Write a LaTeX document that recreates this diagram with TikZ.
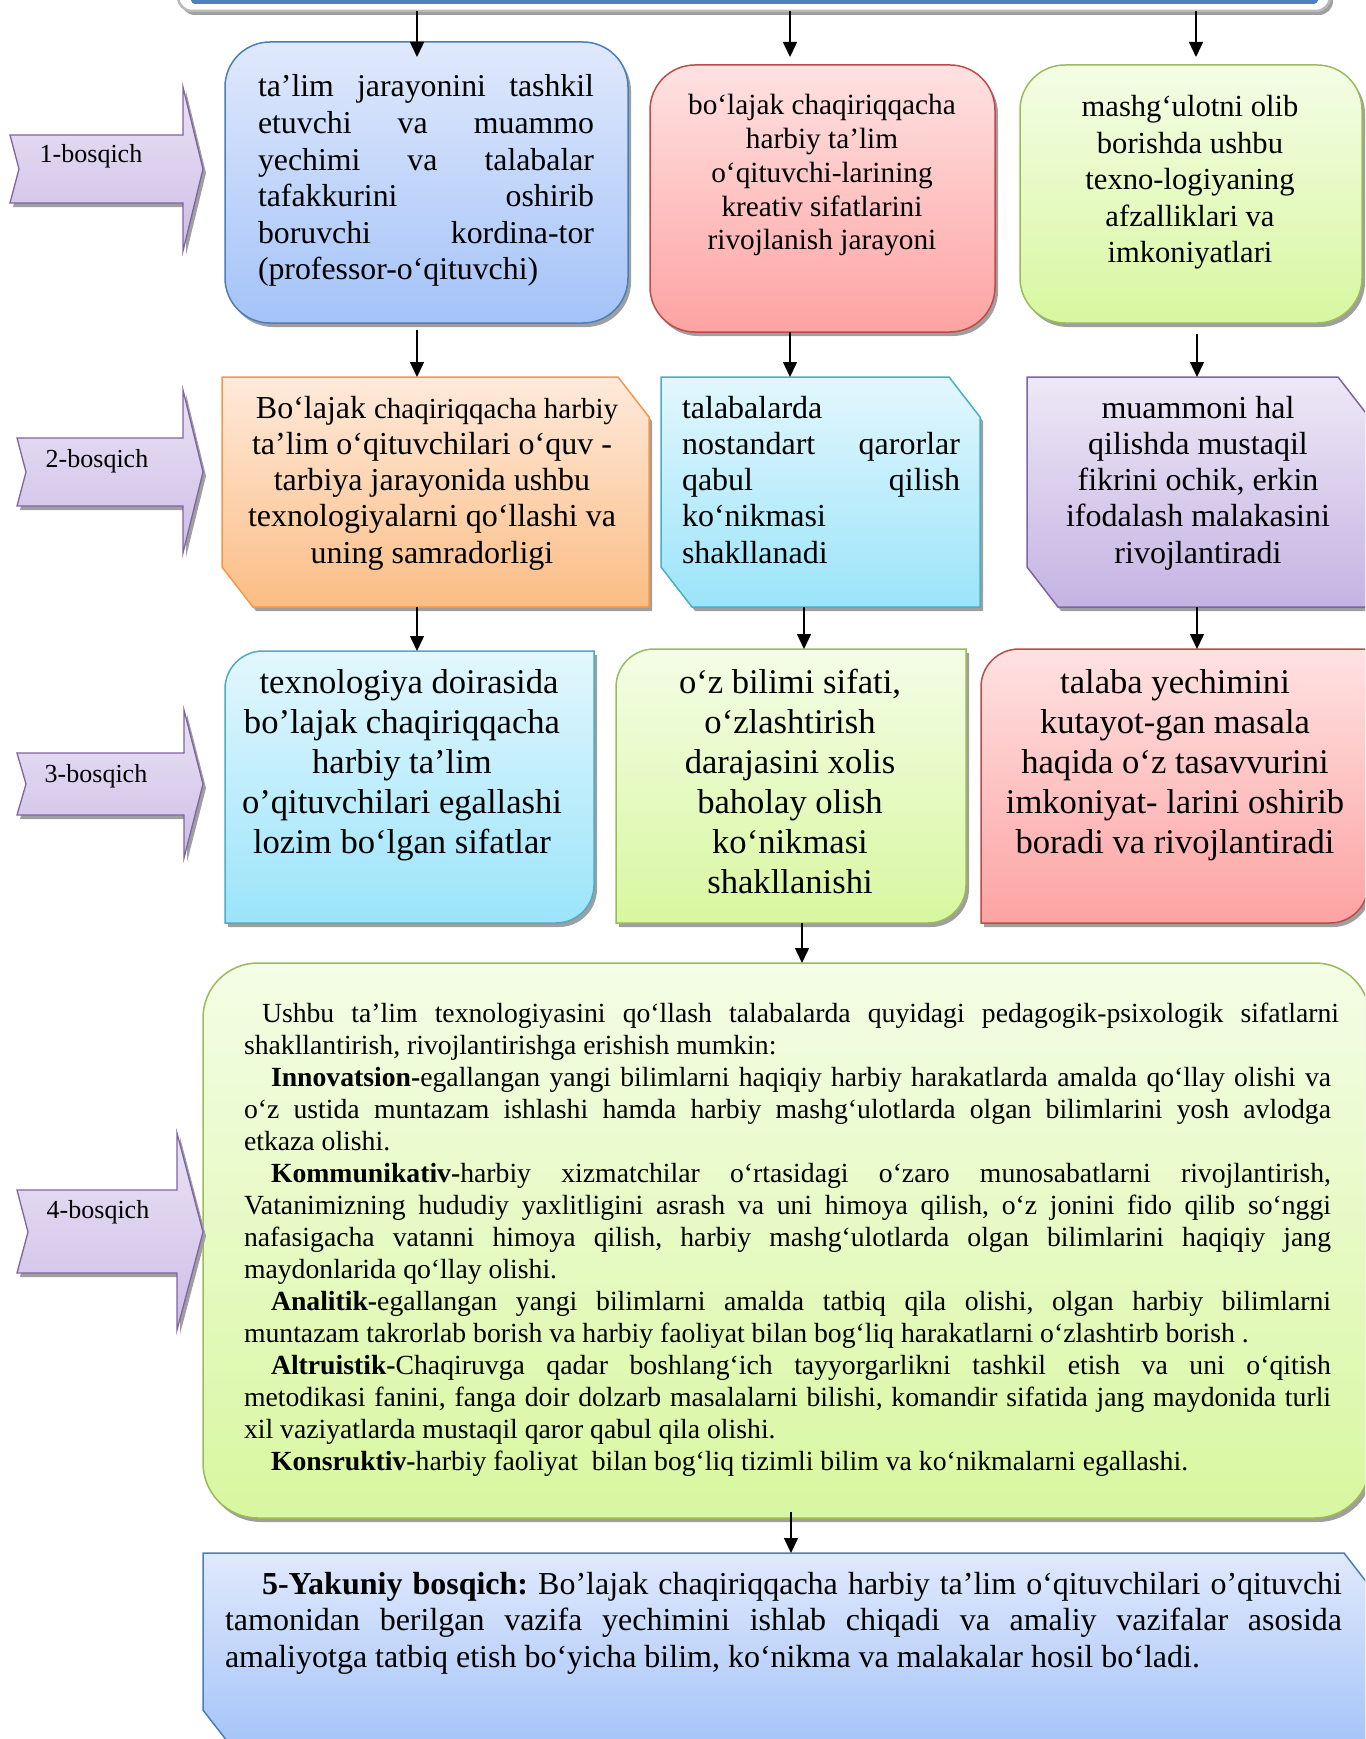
\documentclass[tikz,border=0pt]{standalone}
\usepackage{fontspec}
\setmainfont{Liberation Serif}
\usetikzlibrary{arrows.meta,shadows,calc}
\definecolor{blueT}{HTML}{E0E9FC}\definecolor{blueB}{HTML}{A4C3F8}\definecolor{blueD}{HTML}{4A7EBB}
\definecolor{redT}{HTML}{FFE2E2}\definecolor{redB}{HTML}{FDA3A3}\definecolor{redD}{HTML}{BE4B48}
\definecolor{greenT}{HTML}{F4FDE6}\definecolor{greenB}{HTML}{D8F7A0}\definecolor{greenD}{HTML}{9BBB59}
\definecolor{orT}{HTML}{FEEADB}\definecolor{orB}{HTML}{FBBD85}\definecolor{orD}{HTML}{F79646}
\definecolor{cyT}{HTML}{E3F7FD}\definecolor{cyB}{HTML}{9BE4FA}\definecolor{cyD}{HTML}{4BACC6}
\definecolor{puT}{HTML}{EEE8F6}\definecolor{puB}{HTML}{C5B3E3}\definecolor{puD}{HTML}{8064A2}
\definecolor{labT}{HTML}{EAE3F5}\definecolor{labB}{HTML}{CDBDE6}
\definecolor{barblue}{HTML}{4F81BD}
\newcommand\fsz[2]{\fontsize{#1pt}{#2pt}\selectfont}
\newcommand\natsp{\frenchspacing\spaceskip=0pt\xspaceskip=0pt\relax}
\newcommand\ctr{\natsp\centering}
\newcommand\lft{\natsp\raggedright}
\newcommand\jl[2]{\makebox[#1][s]{\natsp #2}}
\newcommand\snipbox[2]{\path[#2] (#1.north west) -- ([xshift=-31pt]#1.north east) -- ([yshift=-40pt]#1.north east) -- (#1.south east) -- ([xshift=31pt]#1.south west) -- ([yshift=40pt]#1.south west) -- cycle;}
\newcommand\diagbox[2]{\path[#2] ([yshift=-38pt]#1.north west) arc[start angle=180,end angle=90,radius=38pt] -- (#1.north east) -- ([yshift=38pt]#1.south east) arc[start angle=0,end angle=-90,radius=38pt] -- (#1.south west) -- cycle;}
\tikzset{
  shad/.style={drop shadow={shadow xshift=3pt, shadow yshift=-4pt, fill=gray!75, opacity=1}},
  geo/.style={inner sep=0pt, outer sep=0pt, anchor=north west},
  boxline/.style={line width=1.5pt},
  txt/.style={inner sep=0pt, outer sep=0pt, anchor=base},
  arr/.style={-{Triangle[width=14pt,length=15pt]}, line width=1.5pt, black},
  labarrow/.style={shad, draw=puD, line width=1.3pt, top color=labT, bottom color=labB},
  labtext/.style={txt, font=\fsz{26}{30}},
}
\begin{document}
\begin{tikzpicture}[x=1pt,y=-1pt]
\useasboundingbox (0,0) rectangle (1365,1739);
\clip (0,0) rectangle (1365,1739);
% top box (cut off)
\node[geo, anchor=south west, minimum width=1152pt, minimum height=91pt, draw=gray!55, line width=2.5pt, fill=white, rounded corners=14pt, shad] (top) at (178,11) {};
\node[geo, anchor=south west, minimum width=1127pt, minimum height=60pt, fill=barblue, rounded corners=4pt] (topbar) at (191,4) {};
% row 1
\node[geo, boxline, minimum width=403pt, minimum height=281pt, draw=blueD, top color=blueT, bottom color=blueB, rounded corners=45pt, shad] (A) at (225,42) {};
\node[geo, boxline, minimum width=345pt, minimum height=267pt, draw=redD, top color=redT, bottom color=redB, rounded corners=45pt, shad] (B) at (650,65) {};
\node[geo, boxline, minimum width=342pt, minimum height=258pt, draw=greenD, top color=greenT, bottom color=greenB, rounded corners=45pt, shad] (C) at (1020,65) {};
% row 2
\node[geo, minimum width=427pt, minimum height=230pt] (D) at (222,377) {};
\node[geo, minimum width=319pt, minimum height=230pt] (E) at (661,377) {};
\node[geo, minimum width=342pt, minimum height=230pt] (F) at (1027,377) {};
\snipbox{D}{shad, boxline, draw=orD, top color=orT, bottom color=orB}
\snipbox{E}{shad, boxline, draw=cyD, top color=cyT, bottom color=cyB}
\snipbox{F}{shad, boxline, draw=puD, top color=puT, bottom color=puB}
% row 3
\node[geo, minimum width=369pt, minimum height=272pt] (G) at (225,651) {};
\node[geo, minimum width=350pt, minimum height=274pt] (H) at (616,649) {};
\node[geo, minimum width=387pt, minimum height=274pt] (I) at (981,649) {};
\diagbox{G}{shad, boxline, draw=cyD, top color=cyT, bottom color=cyB}
\diagbox{H}{shad, boxline, draw=greenD, top color=greenT, bottom color=greenB}
\diagbox{I}{shad, boxline, draw=redD, top color=redT, bottom color=redB}
% box 4
\node[geo, boxline, minimum width=1167pt, minimum height=555pt, draw=greenD, top color=greenT, bottom color=greenB, rounded corners=55pt, shad] (K) at (203,963) {};
% box 5
\node[geo, minimum width=1172pt, minimum height=197pt] (L) at (203,1553) {};
\snipbox{L}{shad, boxline, draw=blueD, top color=blueT, bottom color=blueB}
% stage arrows
\path[labarrow] (10,135) -- (183,135) -- (183,87) -- (203,169) -- (183,251) -- (183,203) -- (10,203) -- (19,169) -- cycle;
\path[labarrow] (17,438) -- (183,438) -- (183,390) -- (203,472) -- (183,553) -- (183,506) -- (17,506) -- (26,472) -- cycle;
\path[labarrow] (17,753) -- (184,753) -- (184,710) -- (203,784) -- (184,858) -- (184,815) -- (17,815) -- (26,784) -- cycle;
\path[labarrow] (17,1190) -- (177,1190) -- (177,1133) -- (203,1232) -- (177,1330) -- (177,1273) -- (17,1273) -- (28,1232) -- cycle;
\node[labtext] (l1) at (91,163) {1-bosqich};
\node[labtext] (l2) at (97,467) {2-bosqich};
\node[labtext] (l3) at (96,782) {3-bosqich};
\node[labtext] (l4) at (98,1218) {4-bosqich};
% texts row 1
\node[txt, anchor=base west, text width=336pt, font=\fsz{31.8}{36.6}] (At) at (258,97)
 {\lft ta’lim\hfill jarayonini\hfill tashkil\\ etuvchi\hfill va\hfill muammo\\ yechimi\hfill va\hfill talabalar\\ tafakkurini\hfill oshirib\\ boruvchi\hfill kordina-tor\\ (professor-o‘qituvchi)\par};
\node[txt, text width=330pt, font=\fsz{29.3}{33.75}] (Bt) at (822,115)
 {\ctr bo‘lajak chaqiriqqacha\\ harbiy ta’lim\\ o‘qituvchi-larining\\ kreativ sifatlarini\\ rivojlanish jarayoni\par};
\node[txt, text width=330pt, font=\fsz{30.6}{36.5}] (Ct) at (1190,117)
 {\ctr mashg‘ulotni olib\\ borishda ushbu\\ texno-logiyaning\\ afzalliklari va\\ imkoniyatlari\par};
% texts row 2
\node[txt, text width=420pt, font=\fsz{32}{36.3}] (Dt) at (432,418)
 {\ctr \hspace*{10pt}Bo‘lajak {\fsz{29}{36.3}chaqiriqqacha harbiy}\\ ta’lim o‘qituvchilari o‘quv -\\ tarbiya jarayonida ushbu\\ texnologiyalarni qo‘llashi va\\ uning samradorligi\par};
\node[txt, anchor=base west, text width=278pt, font=\fsz{32}{36.3}] (Et) at (682,418)
 {\lft talabalarda\\ nostandart\hfill qarorlar\\ qabul\hfill qilish\\ ko‘nikmasi\\ shakllanadi\par};
\node[txt, text width=330pt, font=\fsz{32}{36.3}] (Ft) at (1198,418)
 {\ctr muammoni hal\\ qilishda mustaqil\\ fikrini ochik, erkin\\ ifodalash malakasini\\ rivojlantiradi\par};
% texts row 3
\node[txt, text width=360pt, font=\fsz{34.6}{40}] (Gt) at (402,693)
 {\ctr \hspace*{14pt}texnologiya doirasida\\ bo’lajak chaqiriqqacha\\ harbiy ta’lim\\ o’qituvchilari egallashi\\ lozim bo‘lgan sifatlar\par};
\node[txt, text width=340pt, font=\fsz{34.6}{40}] (Ht) at (790,693)
 {\ctr o‘z bilimi sifati,\\ o‘zlashtirish\\ darajasini xolis\\ baholay olish\\ ko‘nikmasi\\ shakllanishi\par};
\node[txt, text width=380pt, font=\fsz{34.6}{40}] (It) at (1175,693)
 {\ctr talaba yechimini\\ kutayot-gan masala\\ haqida o‘z tasavvurini\\ imkoniyat- larini oshirib\\ boradi va rivojlantiradi\par};
% box 4 text
\node[txt, anchor=base west, text width=1095pt, font=\fsz{27.7}{32}] (Kt) at (244,1022)
 {\lft
 \hspace*{18pt}\jl{1077pt}{Ushbu ta’lim texnologiyasini qo‘llash talabalarda quyidagi pedagogik-psixologik sifatlarni}\\
 shakllantirish, rivojlantirishga erishish mumkin:\\
 \hspace*{27pt}\jl{1060pt}{\textbf{Innovatsion-}egallangan yangi bilimlarni haqiqiy harbiy harakatlarda amalda qo‘llay olishi va}\\
 \jl{1087pt}{o‘z ustida muntazam ishlashi hamda harbiy mashg‘ulotlarda olgan bilimlarini yosh avlodga}\\
 etkaza olishi.\\
 \hspace*{27pt}\jl{1060pt}{\textbf{Kommunikativ-}harbiy xizmatchilar o‘rtasidagi o‘zaro munosabatlarni rivojlantirish,}\\
 \jl{1087pt}{Vatanimizning hududiy yaxlitligini asrash va uni himoya qilish, o‘z jonini fido qilib so‘nggi}\\
 \jl{1087pt}{nafasigacha vatanni himoya qilish, harbiy mashg‘ulotlarda olgan bilimlarini haqiqiy jang}\\
 maydonlarida qo‘llay olishi.\\
 \hspace*{27pt}\jl{1060pt}{\textbf{Analitik-}egallangan yangi bilimlarni amalda tatbiq qila olishi, olgan harbiy bilimlarni}\\
 muntazam takrorlab borish va harbiy faoliyat bilan bog‘liq harakatlarni o‘zlashtirb borish .\\
 \hspace*{27pt}\jl{1060pt}{\textbf{Altruistik-}Chaqiruvga qadar boshlang‘ich tayyorgarlikni tashkil etish va uni o‘qitish}\\
 \jl{1087pt}{metodikasi fanini, fanga doir dolzarb masalalarni bilishi, komandir sifatida jang maydonida turli}\\
 xil vaziyatlarda mustaqil qaror qabul qila olishi.\\
 \hspace*{27pt}\textbf{Konsruktiv-}harbiy faoliyat\ \ bilan bog‘liq tizimli bilim va ko‘nikmalarni egallashi.\par};
% box 5 text
\node[txt, anchor=base west, text width=1117pt, font=\fsz{32}{36.6}] (Lt) at (225,1594)
 {\lft
 \hspace*{37pt}\jl{1080pt}{\textbf{5-Yakuniy bosqich:} Bo’lajak chaqiriqqacha harbiy ta’lim o‘qituvchilari o’qituvchi}\\
 \jl{1117pt}{tamonidan berilgan vazifa yechimini ishlab chiqadi va amaliy vazifalar asosida}\\
 amaliyotga tatbiq etish bo‘yicha bilim, ko‘nikma va malakalar hosil bo‘ladi.\par};
% connectors
\coordinate (c1) at (417,57);
\coordinate (c2) at (790,57);
\coordinate (c3) at (1196,57);
\draw[arr] (top.south -| c1) -- (c1);
\draw[arr] (top.south -| c2) -- (c2);
\draw[arr] (top.south -| c3) -- (c3);
\coordinate (x1) at (417,0);
\coordinate (x2) at (790,0);
\coordinate (x3) at (1197,0);
\coordinate (x4) at (804,0);
\coordinate (x5) at (802,0);
\coordinate (x6) at (791,0);
\draw[arr, shorten <=7pt] (A.south -| x1) -- (D.north -| x1);
\draw[arr] (B.south -| x2) -- (E.north -| x2);
\draw[arr, shorten <=11pt] (C.south -| x3) -- (F.north -| x3);
\draw[arr] (D.south -| x1) -- (G.north -| x1);
\draw[arr] (E.south -| x4) -- (H.north -| x4);
\draw[arr] (F.south -| x3) -- (I.north -| x3);
\draw[arr] (H.south -| x5) -- (K.north -| x5);
\draw[arr, shorten <=-6pt] (K.south -| x6) -- (L.north -| x6);
\end{tikzpicture}
\end{document}
